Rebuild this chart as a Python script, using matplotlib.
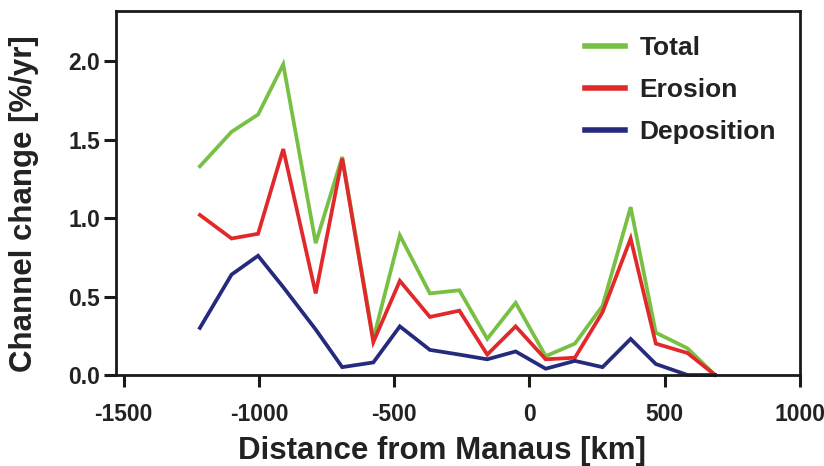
import matplotlib.pyplot as plt
import numpy as np

plt.rcParams['font.family'] = ['Liberation Sans', 'DejaVu Sans']
plt.rcParams['font.weight'] = 'bold'
plt.rcParams['axes.unicode_minus'] = False

# distance from Manaus [km]
dist = [-1218, -1101, -1003, -910, -790, -692, -577, -479, -368, -259,
        -156, -51, 60, 168, 270, 374, 467, 584, 686]
total = [1.33, 1.55, 1.66, 1.98, 0.84, 1.39, 0.23, 0.89, 0.52, 0.54,
         0.23, 0.46, 0.12, 0.20, 0.44, 1.07, 0.27, 0.17, 0.0]
erosion = [1.02, 0.87, 0.90, 1.44, 0.52, 1.38, 0.21, 0.60, 0.37, 0.41,
           0.13, 0.31, 0.10, 0.11, 0.40, 0.87, 0.20, 0.14, 0.0]
deposition = [0.30, 0.64, 0.76, 0.56, 0.29, 0.05, 0.08, 0.31, 0.16, 0.13,
              0.10, 0.15, 0.04, 0.09, 0.05, 0.23, 0.07, 0.0, 0.0]

fig = plt.figure(figsize=(8.24, 4.66), dpi=100)
ax = fig.add_axes([0.1408, 0.1953, 0.8301, 0.7811])

line_kw = dict(linewidth=2.7, clip_on=False, solid_joinstyle='miter')
ax.plot(dist, total, color='#78c043', label='Total', **line_kw)
ax.plot(dist, erosion, color='#e1282a', label='Erosion', **line_kw)
ax.plot(dist, deposition, color='#262a7c', label='Deposition', **line_kw)

ax.set_xlim(-1528, 1000)
ax.set_ylim(0, 2.32)
ax.set_xticks([-1500, -1000, -500, 0, 500, 1000])
ax.set_yticks([0.0, 0.5, 1.0, 1.5, 2.0])
ax.set_yticklabels(['0.0', '0.5', '1.0', '1.5', '2.0'])

for s in ax.spines.values():
    s.set_linewidth(2.0)
    s.set_color('#1a1a1a')
ax.tick_params(axis='both', direction='out', length=8.5, width=2.2,
               labelsize=16.5, colors='#1a1a1a')
ax.tick_params(axis='x', pad=12)
ax.tick_params(axis='y', pad=3)
for lab in ax.get_xticklabels() + ax.get_yticklabels():
    lab.set_fontweight('bold')
    lab.set_color('#222222')

ax.set_xlabel('Distance from Manaus [km]', fontsize=22.5, fontweight='bold',
              color='#222222', va='center')
ax.xaxis.set_label_coords(0.476, -0.209)
ax.set_ylabel('Channel change [%/yr]', fontsize=22.5, fontweight='bold',
              color='#222222', va='center')
ax.yaxis.set_label_coords(-0.1345, 0.47)

leg = ax.legend(loc='upper left', bbox_to_anchor=(0.686, 0.93), frameon=False,
                fontsize=19, handlelength=1.5, handletextpad=0.55,
                labelspacing=0.67, borderpad=0, borderaxespad=0)
for h in leg.get_lines():
    h.set_linewidth(4)
for t in leg.get_texts():
    t.set_fontweight('bold')
    t.set_color('#222222')

fig.savefig('out.png', dpi=100)
